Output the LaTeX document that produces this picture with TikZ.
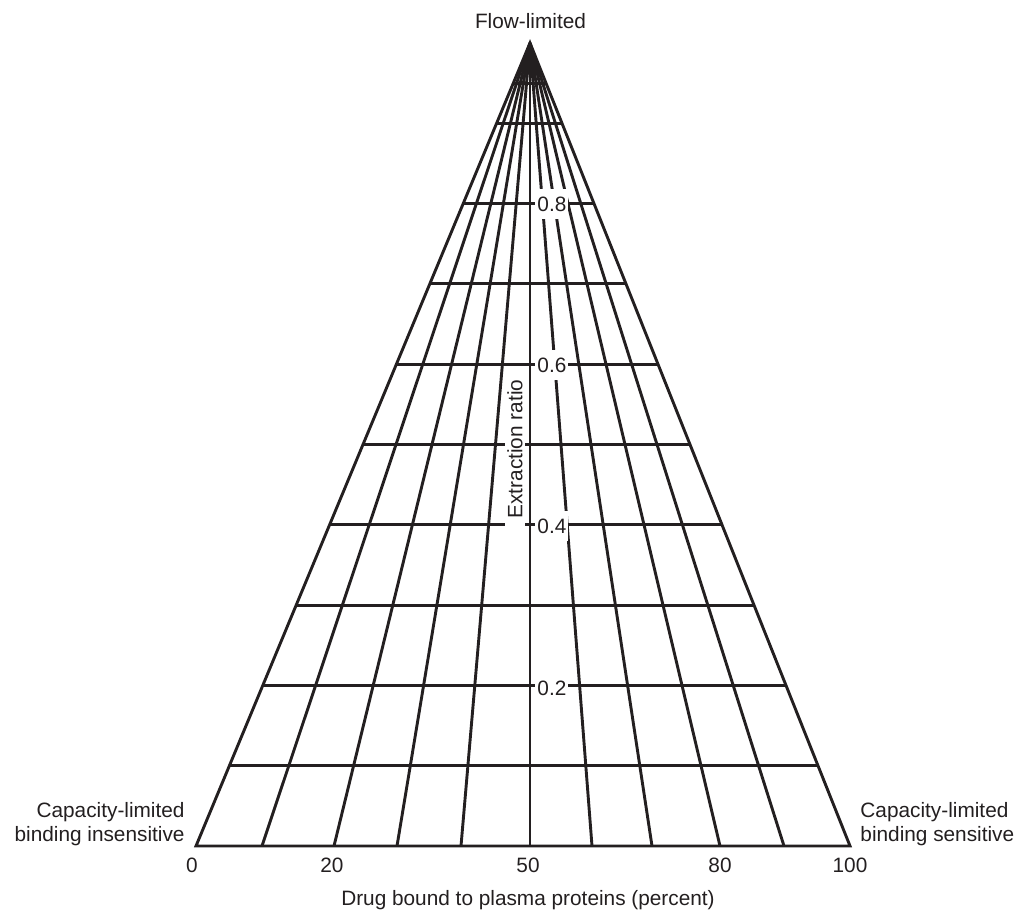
\documentclass[tikz,border=0pt]{standalone}
\usepackage{fontspec}
\setmainfont{Liberation Sans}
\usepackage{tikz}
\usetikzlibrary{calc}
\definecolor{gridink}{HTML}{231f20}

\begin{document}
\begin{tikzpicture}[x=0.5pt, y=-0.5pt, line width=1.45pt, draw=gridink,
  every node/.style={font=\fontsize{10.4}{12}\selectfont, text=gridink},
  erlabel/.style={fill=white, inner xsep=1pt, inner ysep=0pt, minimum height=15pt, anchor=west}]
\useasboundingbox (0,0) rectangle (1018,913);

% ---------------- triangle and fan -----------------------------------------
\coordinate (apex) at (530,43);
\coordinate (bl) at (196,846);
\coordinate (br) at (850,846);
\draw[line join=miter] (apex) -- (bl) -- (br) -- cycle;
\foreach \xb in {262,334,397,461,530,592,652,720,784}
  \draw (apex) -- (\xb,846);

% ---------------- extraction ratio levels ----------------------------------
\foreach \er [evaluate=\er as \fr using 1-\er] in {0.1,0.2,0.3,0.4,0.5,0.6,0.7,0.8,0.9,0.95}
  \draw ($(apex)!\fr!(bl)$) -- ($(apex)!\fr!(br)$);

% ---------------- labels ---------------------------------------------------
\node[erlabel] (er8) at (534,204) {0.8};
\node[erlabel] (er6) at (534,365) {0.6};
\node[erlabel] (er4) at (534,526) {0.4};
\node[erlabel] (er2) at (534,688) {0.2};
\node[fill=white, rotate=90, inner xsep=4pt, inner ysep=1pt] (ertitle) at (515,449) {Extraction ratio};

\node[anchor=base] (flow) at (530.5,29) {Flow-limited};
\node[anchor=east, align=right, inner sep=0pt] (capins) at (186,824.5)
  {Capacity-limited\\binding insensitive};
\node[anchor=west, align=left, inner sep=0pt] (capsens) at (859,824.5)
  {Capacity-limited\\binding sensitive};

\node[anchor=base] (b0) at (192,873) {0};
\node[anchor=base] (b20) at (332,873) {20};
\node[anchor=base] (b50) at (528,873) {50};
\node[anchor=base] (b80) at (720,873) {80};
\node[anchor=base] (b100) at (850,873) {100};
\node[anchor=base] (boundtitle) at (528,906) {Drug bound to plasma proteins (percent)};

\end{tikzpicture}
\end{document}
